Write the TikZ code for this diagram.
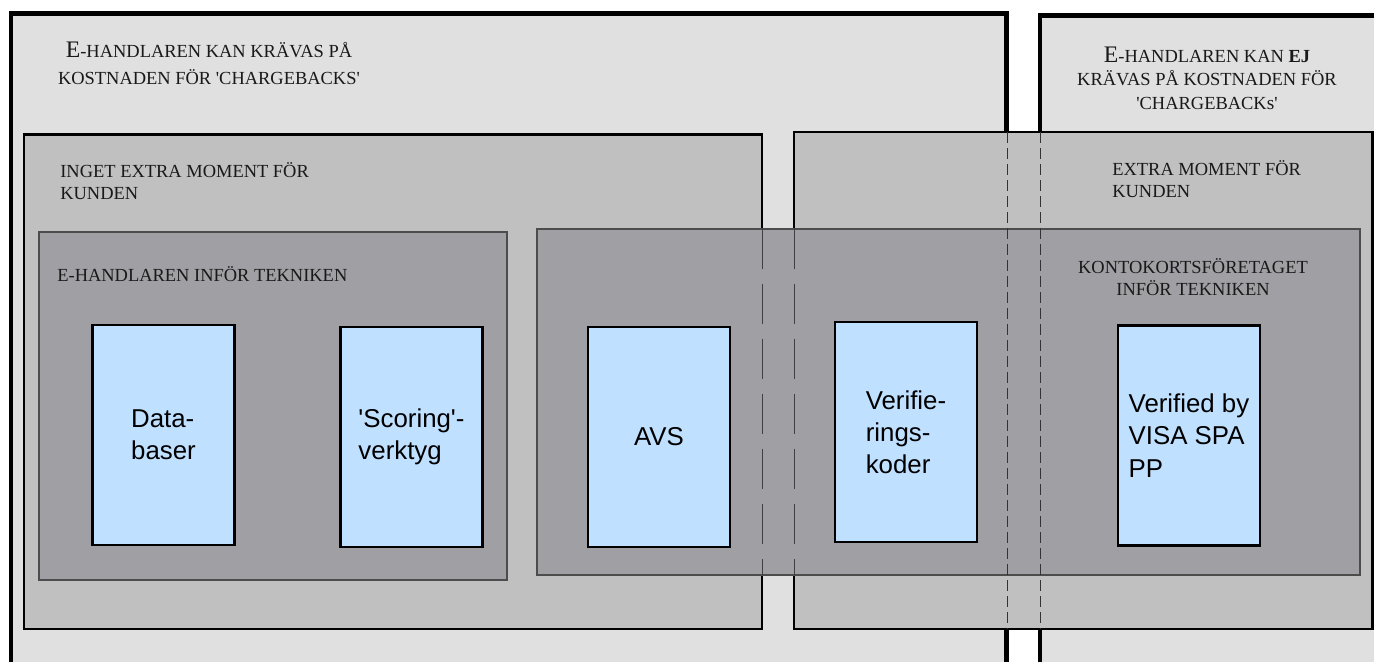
\documentclass[tikz,border=0pt]{standalone}
\usepackage{fontspec}
\setmainfont{Liberation Serif}[Ligatures=TeXOff]
\newfontfamily\boxsans{Liberation Sans}[Ligatures=TeXOff]
\definecolor{outerfill}{HTML}{E0E0E0}
\definecolor{midfill}{HTML}{C0C0C0}
\definecolor{innerfill}{HTML}{A0A0A4}
\definecolor{techblue}{HTML}{BFE0FF}
\tikzset{
  outerbox/.style={draw=black, line width=2.3pt, fill=outerfill},
  midbox/.style={draw=black, line width=1.4pt, fill=midfill},
  innerbox/.style={draw=black!70, line width=0.6pt, fill=innerfill},
  techbox/.style={draw=black, line width=1.4pt, fill=techblue,
    minimum width=2.84cm, minimum height=4.4cm, inner sep=0pt, align=left,
    font=\boxsans\fontsize{14.7}{18.3}\selectfont},
  zonelabel/.style={inner sep=0pt, text=black!90,
    font=\fontsize{10.5}{12.5}\selectfont},
  hiddenedge/.style={black!75, line width=0.5pt, dash pattern=on 0.8cm off 0.3cm},
  hiddenwall/.style={black!80, line width=0.5pt, dash pattern=on 0.22cm off 0.1cm}
}
\newcommand{\bigE}{{\fontsize{13.5}{13.5}\selectfont E}}
\begin{document}
\begin{tikzpicture}[x=0.02cm, y=-0.02cm]
  \useasboundingbox (0,0) rectangle (1374,662);
  \clip (0,0) rectangle (1374,662);
  \fill[white] (0,0) rectangle (1374,662);
  \draw[outerbox] (11,13.5) rectangle (1006.5,700);
  \draw[outerbox] (1040,15.5) rectangle (1400,700);
  \draw[midbox] (24,134.5) rectangle (762,629);
  \draw[midbox] (794,132) rectangle (1372.5,629);
  \draw[innerbox] (39,232) rectangle (507,580);
  \draw[innerbox] (537,229) rectangle (1360,575);
  \foreach \xe in {762,794}
    \draw[hiddenedge] (\xe,229) -- (\xe,575);
  \foreach \xe in {1007,1040}
    \draw[hiddenwall] (\xe,132) -- (\xe,629);
  \node[zonelabel, anchor=south, align=center, font=\fontsize{10.5}{15.4}\selectfont]
    (chargeyes) at (209,85) {\bigE-HANDLAREN KAN KRÄVAS PÅ\\KOSTNADEN FÖR 'CHARGEBACKS'};
  \node[zonelabel, anchor=south, align=center, font=\fontsize{10.5}{13.4}\selectfont]
    (chargeno) at (1207,110)
    {\bigE-HANDLAREN KAN {\bfseries EJ}\\KRÄVAS PÅ KOSTNADEN FÖR\\'CHARGEBACK{\fontsize{11}{11}\selectfont s}'};
  \node[zonelabel, anchor=south west, align=left] (nostep) at (60,200) {INGET EXTRA MOMENT FÖR\\KUNDEN};
  \node[zonelabel, anchor=south west, align=left] (extrastep) at (1112,198) {EXTRA MOMENT FÖR\\KUNDEN};
  \node[zonelabel, anchor=base west] (shoptech) at (57,282) {E-HANDLAREN INFÖR TEKNIKEN};
  \node[zonelabel, anchor=south, align=center] (cardtech) at (1193,296) {KONTOKORTSFÖRETAGET\\INFÖR TEKNIKEN};
  \foreach \xn/\xx/\xy/\xt in {
    databases/163.5/435/{Data-\\baser},
    scoring/411.5/437/{'Scoring'-\\verktyg},
    avs/659/437/{AVS},
    vcodes/906/432/{Verifie-\\rings-\\koder},
    visa/1189/435.5/{Verified by\\VISA SPA\\PP}}
    \node[techbox] (\xn) at (\xx,\xy) {\xt};
\end{tikzpicture}
\end{document}
